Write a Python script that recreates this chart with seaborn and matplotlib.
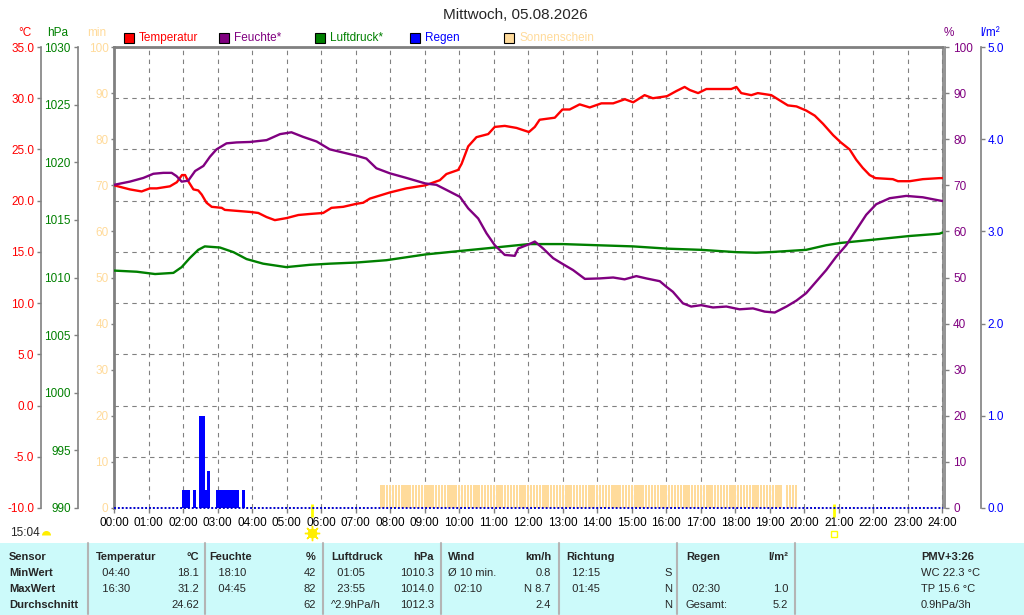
import matplotlib
matplotlib.use("Agg")
import matplotlib.pyplot as plt
from matplotlib.patches import Rectangle
from matplotlib.lines import Line2D
from matplotlib.ticker import FormatStrFormatter
import seaborn as sns

# ---- data (hours since midnight) ----
temp_hours = [0.00, 0.46, 0.80, 1.04, 1.24, 1.62, 1.82, 1.97, 2.06, 2.15, 2.30, 2.44, 2.54,
              2.68, 2.83, 3.12, 3.21, 3.94, 4.18, 4.42, 4.66, 5.00, 5.34, 5.67, 6.06, 6.30,
              6.64, 7.03, 7.22, 7.41, 7.70, 7.99, 8.47, 9.02, 9.44, 9.63, 9.97, 10.07,
              10.26, 10.50, 10.84, 11.03, 11.32, 11.66, 12.02, 12.19, 12.33, 12.77, 12.99,
              13.20, 13.49, 13.78, 14.12, 14.46, 14.80, 15.04, 15.37, 15.61, 16.02, 16.29,
              16.53, 16.68, 16.92, 17.16, 17.88, 18.03, 18.17, 18.46, 18.65, 19.04, 19.28,
              19.52, 19.77, 20.05, 20.30, 20.54, 20.83, 21.05, 21.31, 21.50, 21.69, 21.89,
              22.06, 22.56, 22.71, 23.05, 23.43, 23.91, 24.00]
temp_values = [21.5, 21.1, 20.9, 21.2, 21.2, 21.4, 21.8, 22.5, 22.5, 21.9, 21.1, 21.0, 20.6,
               19.8, 19.4, 19.3, 19.1, 18.9, 18.8, 18.4, 18.1, 18.3, 18.6, 18.7, 18.8, 19.3,
               19.4, 19.7, 19.8, 20.2, 20.5, 20.8, 21.2, 21.5, 22.0, 22.6, 23.0, 23.6,
               25.3, 26.2, 26.5, 27.2, 27.3, 27.1, 26.7, 27.2, 27.9, 28.1, 28.9,
               28.9, 29.4, 29.1, 29.5, 29.5, 29.9, 29.6, 30.3, 30.0, 30.2, 30.7,
               31.1, 30.8, 30.5, 30.9, 30.9, 31.1, 30.5, 30.3, 30.5, 30.3, 29.8,
               29.3, 29.2, 28.8, 28.3, 27.5, 26.4, 25.7, 25.0, 24.0, 23.2, 22.5,
               22.2, 22.1, 21.9, 21.9, 22.1, 22.2, 22.2]

hum_hours = [0.00, 0.46, 0.85, 1.14, 1.43, 1.67, 1.81, 1.96, 2.15, 2.35, 2.59, 2.78, 2.97,
             3.26, 3.55, 3.94, 4.42, 4.81, 5.14, 5.48, 5.87, 6.25, 6.64, 7.03, 7.31, 7.60,
             7.99, 8.47, 9.02, 9.34, 9.63, 10.02, 10.26, 10.55, 10.79, 11.03, 11.32, 11.61,
             11.71, 12.02, 12.19, 12.43, 12.72, 12.96, 13.30, 13.64, 14.07, 14.46, 14.79,
             15.13, 15.42, 15.81, 16.00, 16.19, 16.48, 16.72, 17.01, 17.35, 17.74, 18.12,
             18.51, 18.85, 19.14, 19.48, 19.77, 20.05, 20.34, 20.63, 20.92, 21.21, 21.50,
             21.79, 22.08, 22.47, 22.95, 23.43, 23.91, 24.00]
hum_values = [70.1, 70.8, 71.6, 72.5, 72.7, 72.7, 72.0, 70.8, 71.0, 73.1, 74.2, 76.2, 77.8,
              79.1, 79.3, 79.4, 79.8, 81.1, 81.5, 80.5, 79.5, 77.8, 77.1, 76.4, 75.8, 73.7,
              72.6, 71.6, 70.4, 70.1, 69.0, 67.5, 65.0, 62.8, 59.6, 57.0, 54.9, 54.7,
              56.3, 57.2, 57.8, 56.3, 54.2, 53.1, 51.6, 49.7, 49.8, 50.0, 49.6,
              50.3, 49.8, 49.2, 48.0, 46.9, 44.4, 43.7, 44.0, 43.5, 43.7, 43.1,
              43.3, 42.6, 42.4, 43.7, 45.0, 46.6, 49.1, 51.6, 54.5, 57.0, 60.3,
              63.6, 65.9, 67.2, 67.7, 67.4, 66.7, 66.6]

press_hours = [0.00, 0.66, 1.19, 1.72, 1.96, 2.20, 2.44, 2.63, 3.07, 3.46, 3.84, 4.32, 4.99,
               5.67, 6.25, 7.03, 7.89, 9.02, 10.02, 11.03, 12.02, 13.00, 14.00, 15.03,
               16.05, 17.01, 18.02, 18.60, 19.00, 20.05, 20.63, 21.05, 22.06, 23.04,
               23.91, 24.00]
press_values = [1010.6, 1010.5, 1010.3, 1010.4, 1010.9, 1011.7, 1012.4, 1012.7, 1012.6,
                1012.2, 1011.6, 1011.2, 1010.9, 1011.1, 1011.2, 1011.3, 1011.5, 1012.0,
                1012.3, 1012.6, 1012.9, 1012.9, 1012.8, 1012.7, 1012.5, 1012.4, 1012.2,
                1012.15, 1012.2, 1012.4, 1012.8, 1013.0, 1013.3, 1013.6, 1013.8, 1013.9]

rain_times = ["02:00", "02:05", "02:10", "02:20", "02:30", "02:35", "02:40", "02:45",
              "03:00", "03:05", "03:10", "03:15", "03:20", "03:25", "03:30", "03:35", "03:45"]
rain_values = [0.2, 0.2, 0.2, 0.2, 1.0, 1.0, 0.2, 0.4,
               0.2, 0.2, 0.2, 0.2, 0.2, 0.2, 0.2, 0.2, 0.2]

# sunshine minutes per 5-minute slot, first slot 07:45
sun_first = "07:45"
sun_minutes = [
    5, 5, 5, 5, 5, 5, 5, 5, 5, 5, 5, 5,   # 07:45 - 08:40
    5, 5, 5, 5, 5, 5, 5, 5, 5, 5, 5, 5,   # 08:45 - 09:40
    5, 5, 5, 5, 5, 5, 5, 5, 5, 5, 5, 5,   # 09:45 - 10:40
    5, 5, 5, 5, 5, 5, 5, 5, 5, 5, 5, 5,   # 10:45 - 11:40
    5, 5, 5, 5, 5, 5, 5, 5, 5, 5, 5, 5,   # 11:45 - 12:40
    5, 5, 5, 5, 5, 5, 5, 5, 5, 5, 5, 5,   # 12:45 - 13:40
    5, 5, 5, 5, 5, 5, 5, 5, 5, 5, 5, 5,   # 13:45 - 14:40
    5, 5, 5, 5, 5, 5, 5, 5, 5, 5, 5, 5,   # 14:45 - 15:40
    5, 5, 5, 5, 5, 5, 5, 5, 5, 5, 5, 5,   # 15:45 - 16:40
    5, 5, 5, 5, 5, 5, 5, 5, 5, 5, 5, 5,   # 16:45 - 17:40
    5, 5, 5, 5, 5, 5, 5, 5, 5, 5, 5, 5,   # 17:45 - 18:40
    5, 5, 5, 5, 5, 5, 5, 5, 0, 5, 5, 5,   # 18:45 - 19:40
    5,                                    # 19:45
]

sunrise = "05:44"
sunset = "20:51"
time_now = "15:04"

title = "Mittwoch, 05.08.2026"
legend_labels = ["Temperatur", "Feuchte*", "Luftdruck*", "Regen", "Sonnenschein"]

# summary table below the chart
table_rows = ["Sensor", "MinWert", "MaxWert", "Durchschnitt"]
tab_temp = ["Temperatur", "  04:40", "  16:30", ""]
tab_temp_val = ["°C", "18.1", "31.2", "24.62"]
tab_hum = ["Feuchte", "   18:10", "   04:45", ""]
tab_hum_val = ["%", "42", "82", "62"]
tab_press = ["Luftdruck", "  01:05", "  23:55", "^2.9hPa/h"]
tab_press_val = ["hPa", "1010.3", "1014.0", "1012.3"]
tab_wind = ["Wind", "Ø 10 min.", "  02:10", ""]
tab_wind_val = ["km/h", "0.8", "N 8.7", "2.4"]
tab_dir = ["Richtung", "  12:15", "  01:45", ""]
tab_dir_val = ["", "S", "N", "N"]
tab_rain = ["Regen", "", "  02:30", "Gesamt:"]
tab_rain_val = ["l/m²", "", "1.0", "5.2"]
tab_extra = ["PMV+3:26", "WC 22.3 °C", "TP 15.6 °C", "0.9hPa/3h"]


def hm(s):
    h, m = s.split(":")
    return int(h) + int(m) / 60


RED, PURPLE, GREEN, BLUE = "#ff0000", "#800080", "#008000", "#0000ff"
SUN = "#ffdb9b"
GRAY = "#808080"
SLOT = 5 / 60

sns.set_style("white")
plt.rcParams["font.family"] = ["Liberation Sans", "DejaVu Sans"]

W, H = 1024, 615
fig = plt.figure(figsize=(W / 100, H / 100), dpi=100)


def fx(px):
    return px / W


def fy(py):
    return 1 - py / H


X0, X1, Y0, Y1 = 114, 942.5, 47, 508
ax = fig.add_axes([fx(X0), fy(Y1), (X1 - X0) / W, (Y1 - Y0) / H])
ax_t = ax.twinx()
ax_p = ax.twinx()
ax_h = ax.twinx()
ax_r = ax.twinx()

# base axis: sunshine minutes + time axis
sun_hours = [hm(sun_first) + i * SLOT for i in range(len(sun_minutes))]
ax.bar(sun_hours, sun_minutes, width=SLOT * 0.75, color=SUN, linewidth=0)
ax.set_xlim(0, 24)
ax.set_ylim(0, 100)
ax.set_xticks(range(25))
ax.set_xticklabels([f"{h:02d}:00" for h in range(25)])
ax.set_yticks(range(0, 101, 10))
ax.set_axisbelow(True)
ax.grid(axis="x", color=GRAY, linestyle=(0, (4, 4)), linewidth=0.8)
ax.grid(axis="y", visible=False)
ax.tick_params(axis="x", bottom=True, length=3.5, width=1, color=GRAY, pad=3,
               labelsize=8.5, labelcolor="black")
ax.tick_params(axis="y", left=True, length=2.5, width=1, color=GRAY, pad=1.5,
               labelsize=8.5, labelcolor=SUN)
for side in ["top", "left"]:
    ax.spines[side].set_color(GRAY)
    ax.spines[side].set_linewidth(2)
ax.spines["right"].set_color(GRAY)
ax.spines["right"].set_linewidth(1.2)
ax.spines["bottom"].set_visible(False)

# temperature axis (outer left)
sns.lineplot(x=temp_hours, y=temp_values, ax=ax_t, color=RED, linewidth=1.7)
ax_t.set_ylim(-10, 35)
ax_t.set_yticks(range(-10, 36, 5))
ax_t.yaxis.set_major_formatter(FormatStrFormatter("%.1f"))
ax_t.grid(axis="y", color=GRAY, linestyle=(0, (4, 4)), linewidth=0.8)
ax_t.yaxis.tick_left()
ax_t.spines["left"].set_position(("axes", (40.5 - X0) / (X1 - X0)))

# pressure axis (inner left)
sns.lineplot(x=press_hours, y=press_values, ax=ax_p, color=GREEN, linewidth=1.7)
ax_p.set_ylim(990, 1030)
ax_p.set_yticks(range(990, 1031, 5))
ax_p.yaxis.tick_left()
ax_p.spines["left"].set_position(("axes", (77.7 - X0) / (X1 - X0)))

# humidity axis (inner right)
sns.lineplot(x=hum_hours, y=hum_values, ax=ax_h, color=PURPLE, linewidth=1.7)
ax_h.set_ylim(0, 100)
ax_h.set_yticks(range(0, 101, 10))
ax_h.yaxis.tick_right()
ax_h.spines["right"].set_position(("outward", 1.6))

# rain axis (outer right)
ax_r.bar([hm(t) for t in rain_times], rain_values, width=SLOT, color=BLUE, linewidth=0)
ax_r.axhline(0, color="#0000cc", linewidth=1.4, linestyle=(0, (1, 1)), clip_on=False)
ax_r.set_ylim(0, 5)
ax_r.set_yticks(range(0, 6))
ax_r.yaxis.set_major_formatter(FormatStrFormatter("%.1f"))
ax_r.yaxis.tick_right()
ax_r.spines["right"].set_position(("axes", 1 + (981 - X1) / (X1 - X0)))

for a, side, col, pad in [(ax_t, "left", RED, 1.5), (ax_p, "left", GREEN, 2),
                          (ax_h, "right", PURPLE, 3), (ax_r, "right", BLUE, 1.5)]:
    for s in a.spines.values():
        s.set_visible(False)
    a.spines[side].set_visible(True)
    a.spines[side].set_color(GRAY)
    a.spines[side].set_linewidth(1.2)
    a.tick_params(axis="y", length=3, width=1, color=GRAY, pad=pad,
                  labelsize=8.5, labelcolor=col)
    a.set_xlim(0, 24)
    a.set_xlabel("")
    a.set_ylabel("")

# sunrise / sunset marks under the time axis
xt = ax.get_xaxis_transform()
for t in [sunrise, sunset]:
    ax.vlines(hm(t), -0.0195, 0.0087, transform=xt, color="#ffff00", linewidth=2, clip_on=False)
ax.plot(hm(sunrise), -0.054, transform=xt, marker=(8, 2, 0), ms=11, mew=1,
        color="#ffee00", clip_on=False)
ax.plot(hm(sunrise), -0.054, transform=xt, marker="o", ms=6, color="#ffee00", clip_on=False)
ax.plot(hm(sunset), -0.056, transform=xt, marker="s", ms=4, mfc="none", mec="#ffff00",
        mew=1, clip_on=False)

# title, unit labels and legend
fig.text(fx(515), fy(15), title, ha="center", va="center", fontsize=11)
for txt, x, col in [("°C", 24.5, RED), ("hPa", 58, GREEN), ("min", 96.5, SUN),
                    ("%", 948.5, PURPLE), ("l/m²", 990.5, BLUE)]:
    fig.text(fx(x), fy(32.5), txt, ha="center", va="center", fontsize=8.5, color=col)

legend_colors = [RED, PURPLE, GREEN, BLUE, SUN]
legend_x = [124, 219, 315, 409.5, 504]
for lab, col, x in zip(legend_labels, legend_colors, legend_x):
    fig.add_artist(Rectangle((fx(x), fy(43)), 10 / W, 10 / H, transform=fig.transFigure,
                             facecolor=col, edgecolor="black", linewidth=0.8))
    fig.text(fx(x + 15), fy(38), lab, ha="left", va="center", fontsize=8.5, color=col)

fig.text(fx(10), fy(533.5), time_now, ha="left", va="center", fontsize=8.5)
fig.add_artist(Line2D([fx(45.5)], [fy(535)], marker="o", ms=6.5, fillstyle="top",
                      mfc="#ffee00", mec="none", markerfacecoloralt="none",
                      transform=fig.transFigure))

# summary table
fig.add_artist(Rectangle((0, 0), 1, (H - 543) / H, transform=fig.transFigure,
                         facecolor="#ccfafa", edgecolor="none"))
for x in [88, 205, 323, 441, 559, 677, 795]:
    fig.add_artist(Line2D([fx(x), fx(x)], [fy(543), fy(614)], color="#b4b4b4",
                          linewidth=1.5, transform=fig.transFigure))

row_y = [557, 573, 589, 605]
left_x = [96, 209, 331, 448, 566, 686]
right_x = [199, 316, 434, 551, 672, 788]
left_cols = [tab_temp, tab_hum, tab_press, tab_wind, tab_dir, tab_rain]
right_cols = [tab_temp_val, tab_hum_val, tab_press_val, tab_wind_val, tab_dir_val, tab_rain_val]

for i, y in enumerate(row_y):
    fig.text(fx(9), fy(y), table_rows[i], ha="left", va="center", fontsize=8, weight="bold")
    w = "bold" if i == 0 else "normal"
    for lx, rx, lc, rc in zip(left_x, right_x, left_cols, right_cols):
        fig.text(fx(lx), fy(y), lc[i], ha="left", va="center", fontsize=8, weight=w)
        fig.text(fx(rx), fy(y), rc[i], ha="right", va="center", fontsize=8, weight=w)
    fig.text(fx(921), fy(y), tab_extra[i], ha="left", va="center", fontsize=8, weight=w)

fig.savefig("out.png", dpi=100)
